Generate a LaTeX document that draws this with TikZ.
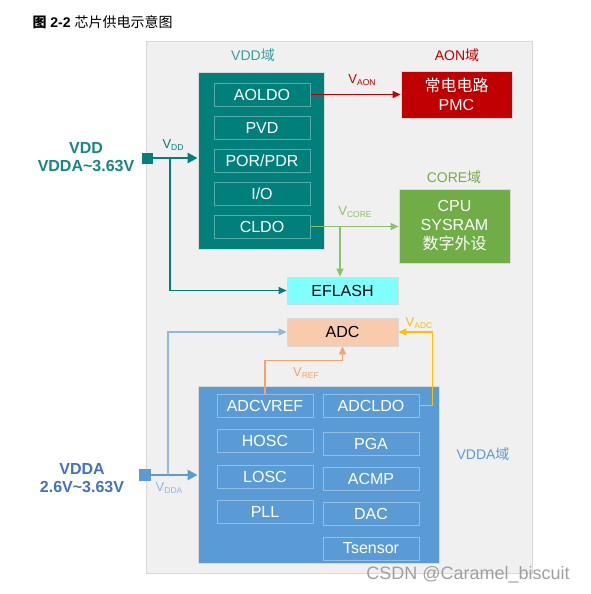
\documentclass[tikz,border=0pt]{standalone}
\usepackage{fontspec}
\setmainfont{Liberation Sans}
\newfontfamily\cjk{Noto Sans CJK SC}
\usetikzlibrary{arrows.meta}

\definecolor{vddteal}{HTML}{007F7B}
\definecolor{vddtext}{HTML}{158784}
\definecolor{vddtitle}{HTML}{3A9E9B}
\definecolor{aonred}{HTML}{C00000}
\definecolor{coregreen}{HTML}{70AD47}
\definecolor{coreline}{HTML}{8CC06B}
\definecolor{vddablue}{HTML}{5B9BD5}
\definecolor{vddaline}{HTML}{8DB8E2}
\definecolor{vddatext}{HTML}{4472C4}
\definecolor{flashcyan}{HTML}{80FFFF}
\definecolor{adcpeach}{HTML}{F8CBAD}
\definecolor{refline}{HTML}{F4A26B}
\definecolor{adcline}{HTML}{FFC000}
\definecolor{panelgray}{HTML}{F0F0F0}

\newcommand{\fsz}[2]{\fontsize{#1}{#2}\selectfont}
\newcommand{\vsub}[1]{V\raisebox{-0.3ex}{\fsz{8.5}{9}#1}}

\tikzset{
  domainbox/.style={fill=#1, draw=black!15, line width=0.8pt, inner sep=0pt,
    text=white, font=\fsz{16}{19}, align=center},
  unitbox/.style={draw=white, draw opacity=0.35, line width=1pt, inner sep=0pt,
    minimum width=96, minimum height=23, text=white, font=\fsz{16}{19}},
  pinbox/.style={fill=#1, inner sep=0pt, minimum size=11},
  domaintitle/.style={text=#1, font=\fsz{14}{17}},
  railtext/.style={text=#1, font=\fsz{13}{15}},
  supplytext/.style={text=#1, font=\bfseries\fsz{16}{18}, align=center},
  feed/.style={draw=#1, line width=1.2pt, -{Triangle[length=8pt,width=7pt]}},
  mainfeed/.style={draw=#1, line width=2.5pt, -{Triangle[length=10pt,width=10pt]}}
}

\begin{document}
\begin{tikzpicture}[x=1pt,y=-1pt]
  \useasboundingbox (0,0) rectangle (590,594);

  % Titel
  \node[anchor=west, font=\fsz{14}{16}] (title) at (29,22)
    {{\bfseries\cjk 图} \textbf{2-2} {\cjk 芯片供电示意图}};

  % Chip
  \node[fill=panelgray, draw=black!15, line width=1pt, minimum width=386, minimum height=531] (panel) at (339,307.5) {};

  % VDD-domene
  \node[domaintitle=vddtitle] (vddname) at (253,55) {VDD{\cjk 域}};
  \node[domainbox=vddteal, minimum width=126, minimum height=177] (vddblk) at (261,160.5) {};
  \foreach \nm/\txt [count=\i] in {aoldo/AOLDO, pvd/PVD, por/{POR/PDR}, io/{I/O}, cldo/CLDO}
    \node[unitbox] (\nm) at (262,{94.5+33*(\i-1)}) {\txt};

  % AON-domene
  \node[domaintitle=aonred] (aonname) at (457,55) {AON{\cjk 域}};
  \node[domainbox=aonred, minimum width=111, minimum height=47] (aon) at (456.5,94.5)
    {{\cjk 常电电路}\\PMC};

  % CORE-domene
  \node[domaintitle=coregreen] (corename) at (454,177) {CORE{\cjk 域}};
  \node[domainbox=coregreen, minimum width=111, minimum height=74] (core) at (454.5,226)
    {CPU\\SYSRAM\\{\cjk 数字外设}};

  % EFLASH og ADC
  \node[domainbox=flashcyan, text=black, minimum width=111, minimum height=27] (eflash) at (342.5,290.5) {EFLASH};
  \node[domainbox=adcpeach, text=black, minimum width=111, minimum height=28] (adc) at (342.5,332) {ADC};

  % VDDA-domene
  \node[domaintitle=vddablue] (vddaname) at (483,454) {VDDA{\cjk 域}};
  \node[domainbox=vddablue, minimum width=241, minimum height=177] (vddablk) at (318.5,474.5) {};
  \foreach \nm/\txt/\yy in {adcvref/ADCVREF/405.5, hosc/HOSC/441, losc/LOSC/476.5, pll/PLL/512}
    \node[unitbox] (\nm) at (265,\yy) {\txt};
  \foreach \nm/\txt/\yy in {adcldo/ADCLDO/405.5, pga/PGA/443.5, acmp/ACMP/478.5, dac/DAC/513.5, tsensor/Tsensor/548.5}
    \node[unitbox] (\nm) at (371,\yy) {\txt};

  % Forsyninger
  \node[supplytext=vddtext] (vddlabel) at (86,157) {VDD\\VDDA\textasciitilde 3.63V};
  \node[pinbox=vddteal] (vddin) at (147.5,158) {};
  \node[supplytext=vddatext] (vddalabel) at (82,478) {VDDA\\2.6V\textasciitilde 3.63V};
  \node[pinbox=vddablue, minimum size=12] (vddain) at (145,475) {};

  % VDD
  \draw[mainfeed=vddteal] (vddin) -- (vddin -| vddblk.west);
  \node[railtext=vddteal] (vddrail) at (173,145) {\vsub{DD}};
  \coordinate (vddtap) at (170,158);
  \draw[feed=vddteal] (vddtap) |- (eflash.west);

  % VAON
  \draw[feed=aonred] (aoldo.east) -- (aoldo.east -| aon.west);
  \node[railtext=aonred] (aonrail) at (362,80) {\vsub{AON}};

  % VCORE
  \draw[feed=coreline] (cldo.east) -- (cldo.east -| core.west);
  \node[railtext=coreline] (corerail) at (355,212) {\vsub{CORE}};
  \coordinate (coretap) at (340,226.5);
  \draw[feed=coreline] (coretap) -- (coretap |- eflash.north);

  % VDDA
  \draw[mainfeed=vddablue] (vddain) -- (vddain -| vddablk.west);
  \node[railtext=vddaline] (vddarail) at (169,488) {\vsub{DDA}};
  \coordinate (vddatap) at (168,475);
  \draw[feed=vddaline] (vddatap) |- (adc.west);

  % VREF og VADC
  \draw[feed=refline] (adcvref.north) -- ++(0,-33) -| (adc.south);
  \node[railtext=refline] (refrail) at (306,373) {\vsub{REF}};
  \draw[feed=adcline] (adcldo.east) -- ++(13,0) |- (adc.east);
  \node[railtext=adcline] (adcrail) at (419,323) {\vsub{ADC}};

  % Vannmerke
  \node[text=gray!75, font=\fsz{18}{20}] (mark) at (468,575) {CSDN @Caramel\_biscuit};
\end{tikzpicture}
\end{document}
